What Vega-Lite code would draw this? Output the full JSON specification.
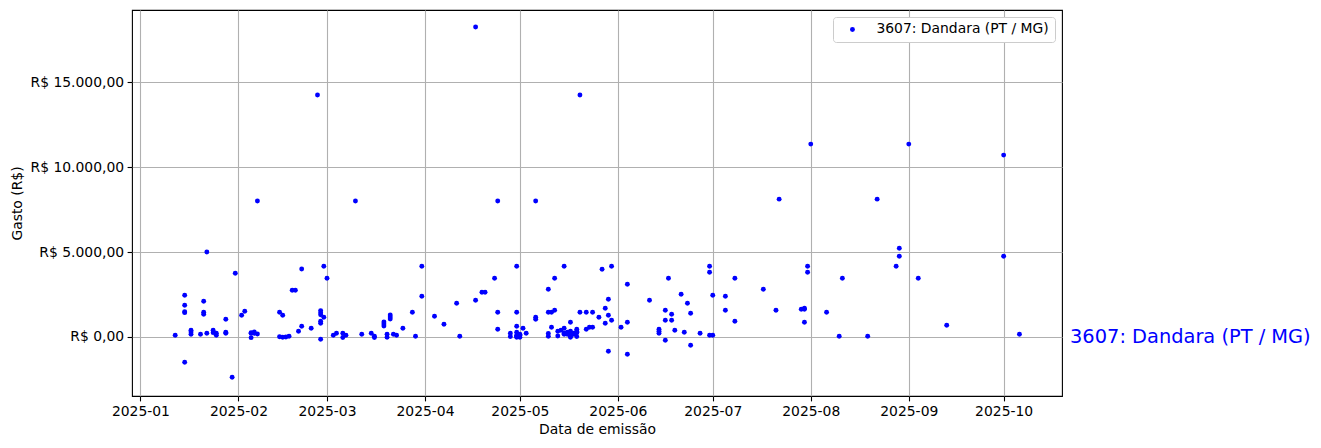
{
  "$schema": "https://vega.github.io/schema/vega-lite/v6.json",
  "width": 930,
  "height": 386,
  "autosize": {"type": "none"},
  "padding": {"left": 132, "top": 10, "right": 259, "bottom": 52},
  "background": "white",
  "config": {
    "view": {"stroke": "black", "strokeWidth": 1.1},
    "axis": {
      "domain": false,
      "tickColor": "black",
      "tickSize": 4.9,
      "tickWidth": 1.1,
      "labelColor": "black",
      "labelFont": "DejaVu Sans",
      "labelFontSize": 13.9,
      "labelPadding": 3.5,
      "titleFont": "DejaVu Sans",
      "titleFontSize": 13.9,
      "titleFontWeight": "normal",
      "titleColor": "black",
      "gridColor": "#b0b0b0",
      "gridWidth": 1.1,
      "gridOpacity": 1
    },
    "legend": {
      "orient": "top-right",
      "offset": 7,
      "labelFont": "DejaVu Sans",
      "labelFontSize": 13.9,
      "labelColor": "black",
      "labelLimit": 0,
      "symbolType": "circle",
      "symbolSize": 24,
      "symbolOffset": 7,
      "labelOffset": 17,
      "strokeColor": "#cccccc",
      "fillColor": "white",
      "padding": 5.5,
      "cornerRadius": 3
    }
  },
  "data": {
    "values": [
      {"d": "2025-01-12", "v": 100},
      {"d": "2025-01-15", "v": 2456},
      {"d": "2025-01-15", "v": 1867},
      {"d": "2025-01-15", "v": 1480},
      {"d": "2025-01-15", "v": 1430},
      {"d": "2025-01-15", "v": -1490},
      {"d": "2025-01-17", "v": 395},
      {"d": "2025-01-17", "v": 295},
      {"d": "2025-01-17", "v": 159},
      {"d": "2025-01-20", "v": 159},
      {"d": "2025-01-21", "v": 2103},
      {"d": "2025-01-21", "v": 1455},
      {"d": "2025-01-21", "v": 1337},
      {"d": "2025-01-22", "v": 5000},
      {"d": "2025-01-22", "v": 218},
      {"d": "2025-01-24", "v": 395},
      {"d": "2025-01-24", "v": 253},
      {"d": "2025-01-25", "v": 218},
      {"d": "2025-01-25", "v": 100},
      {"d": "2025-01-28", "v": 218},
      {"d": "2025-01-28", "v": 277},
      {"d": "2025-01-28", "v": 1042},
      {"d": "2025-01-30", "v": -2374},
      {"d": "2025-01-31", "v": 3752},
      {"d": "2025-02-02", "v": 1278},
      {"d": "2025-02-03", "v": 1514},
      {"d": "2025-02-05", "v": 218},
      {"d": "2025-02-05", "v": -40},
      {"d": "2025-02-05", "v": 253},
      {"d": "2025-02-06", "v": 295},
      {"d": "2025-02-06", "v": 218},
      {"d": "2025-02-07", "v": 177},
      {"d": "2025-02-07", "v": 8000},
      {"d": "2025-02-14", "v": 1455},
      {"d": "2025-02-15", "v": 1278},
      {"d": "2025-02-14", "v": 10},
      {"d": "2025-02-15", "v": -20},
      {"d": "2025-02-16", "v": 0},
      {"d": "2025-02-17", "v": 41},
      {"d": "2025-02-18", "v": 2750},
      {"d": "2025-02-19", "v": 2750},
      {"d": "2025-02-20", "v": 336},
      {"d": "2025-02-21", "v": 4000},
      {"d": "2025-02-21", "v": 630},
      {"d": "2025-02-24", "v": 512},
      {"d": "2025-02-26", "v": 14236},
      {"d": "2025-02-27", "v": 1550},
      {"d": "2025-02-27", "v": 1430},
      {"d": "2025-02-27", "v": 1310},
      {"d": "2025-02-27", "v": 925},
      {"d": "2025-02-27", "v": 807},
      {"d": "2025-02-27", "v": -135},
      {"d": "2025-02-28", "v": 1160},
      {"d": "2025-02-28", "v": 4164},
      {"d": "2025-03-01", "v": 3457},
      {"d": "2025-03-03", "v": 100},
      {"d": "2025-03-04", "v": 218},
      {"d": "2025-03-06", "v": 218},
      {"d": "2025-03-06", "v": -30},
      {"d": "2025-03-07", "v": 100},
      {"d": "2025-03-10", "v": 8000},
      {"d": "2025-03-12", "v": 159},
      {"d": "2025-03-15", "v": 218},
      {"d": "2025-03-16", "v": 41},
      {"d": "2025-03-16", "v": -30},
      {"d": "2025-03-19", "v": 884},
      {"d": "2025-03-19", "v": 766},
      {"d": "2025-03-19", "v": 648},
      {"d": "2025-03-20", "v": 159},
      {"d": "2025-03-20", "v": -18},
      {"d": "2025-03-21", "v": 1296},
      {"d": "2025-03-21", "v": 1178},
      {"d": "2025-03-21", "v": 1060},
      {"d": "2025-03-22", "v": 159},
      {"d": "2025-03-23", "v": 100},
      {"d": "2025-03-25", "v": 512},
      {"d": "2025-03-28", "v": 1455},
      {"d": "2025-03-29", "v": 41},
      {"d": "2025-03-31", "v": 4164},
      {"d": "2025-03-31", "v": 2397},
      {"d": "2025-04-04", "v": 1219},
      {"d": "2025-04-07", "v": 748},
      {"d": "2025-04-11", "v": 1985},
      {"d": "2025-04-12", "v": 41},
      {"d": "2025-04-17", "v": 18242},
      {"d": "2025-04-17", "v": 2162},
      {"d": "2025-04-19", "v": 2633},
      {"d": "2025-04-20", "v": 2633},
      {"d": "2025-04-23", "v": 3457},
      {"d": "2025-04-24", "v": 1455},
      {"d": "2025-04-24", "v": 453},
      {"d": "2025-04-24", "v": 8000},
      {"d": "2025-04-28", "v": 218},
      {"d": "2025-04-28", "v": 30},
      {"d": "2025-04-30", "v": 100},
      {"d": "2025-04-30", "v": 277},
      {"d": "2025-04-30", "v": 630},
      {"d": "2025-04-30", "v": 4164},
      {"d": "2025-04-30", "v": 1455},
      {"d": "2025-04-30", "v": 41},
      {"d": "2025-04-30", "v": -18},
      {"d": "2025-05-01", "v": 100},
      {"d": "2025-05-01", "v": 159},
      {"d": "2025-05-01", "v": -18},
      {"d": "2025-05-02", "v": 512},
      {"d": "2025-05-03", "v": 218},
      {"d": "2025-05-06", "v": 8000},
      {"d": "2025-05-06", "v": 1160},
      {"d": "2025-05-06", "v": 1042},
      {"d": "2025-05-10", "v": 2810},
      {"d": "2025-05-10", "v": 1455},
      {"d": "2025-05-11", "v": 1455},
      {"d": "2025-05-10", "v": 200},
      {"d": "2025-05-10", "v": 41},
      {"d": "2025-05-11", "v": 571},
      {"d": "2025-05-12", "v": 1573},
      {"d": "2025-05-12", "v": 3457},
      {"d": "2025-05-13", "v": 336},
      {"d": "2025-05-13", "v": 60},
      {"d": "2025-05-14", "v": 395},
      {"d": "2025-05-15", "v": 4164},
      {"d": "2025-05-15", "v": 512},
      {"d": "2025-05-15", "v": 218},
      {"d": "2025-05-15", "v": 159},
      {"d": "2025-05-16", "v": 277},
      {"d": "2025-05-16", "v": 159},
      {"d": "2025-05-17", "v": 866},
      {"d": "2025-05-17", "v": 336},
      {"d": "2025-05-17", "v": 41},
      {"d": "2025-05-17", "v": 277},
      {"d": "2025-05-17", "v": -18},
      {"d": "2025-05-18", "v": 159},
      {"d": "2025-05-18", "v": 218},
      {"d": "2025-05-19", "v": 453},
      {"d": "2025-05-19", "v": 336},
      {"d": "2025-05-19", "v": 277},
      {"d": "2025-05-19", "v": 250},
      {"d": "2025-05-19", "v": 20},
      {"d": "2025-05-20", "v": 14236},
      {"d": "2025-05-20", "v": 1455},
      {"d": "2025-05-22", "v": 1455},
      {"d": "2025-05-22", "v": 453},
      {"d": "2025-05-23", "v": 571},
      {"d": "2025-05-24", "v": 1455},
      {"d": "2025-05-24", "v": 571},
      {"d": "2025-05-26", "v": 1160},
      {"d": "2025-05-27", "v": 3987},
      {"d": "2025-05-28", "v": 1690},
      {"d": "2025-05-28", "v": 807},
      {"d": "2025-05-29", "v": 2220},
      {"d": "2025-05-29", "v": -842},
      {"d": "2025-05-29", "v": 1278},
      {"d": "2025-05-30", "v": 984},
      {"d": "2025-05-30", "v": 4164},
      {"d": "2025-06-02", "v": 571},
      {"d": "2025-06-04", "v": 3104},
      {"d": "2025-06-04", "v": 866},
      {"d": "2025-06-04", "v": -1019},
      {"d": "2025-06-11", "v": 2162},
      {"d": "2025-06-14", "v": 453},
      {"d": "2025-06-14", "v": 336},
      {"d": "2025-06-14", "v": 218},
      {"d": "2025-06-16", "v": 984},
      {"d": "2025-06-16", "v": -194},
      {"d": "2025-06-16", "v": 1573},
      {"d": "2025-06-17", "v": 3457},
      {"d": "2025-06-18", "v": 1337},
      {"d": "2025-06-18", "v": 984},
      {"d": "2025-06-19", "v": 395},
      {"d": "2025-06-21", "v": 2515},
      {"d": "2025-06-22", "v": 277},
      {"d": "2025-06-23", "v": 1985},
      {"d": "2025-06-24", "v": 1396},
      {"d": "2025-06-24", "v": -489},
      {"d": "2025-06-27", "v": 218},
      {"d": "2025-06-30", "v": 4164},
      {"d": "2025-06-30", "v": 3811},
      {"d": "2025-06-30", "v": 100},
      {"d": "2025-07-01", "v": 100},
      {"d": "2025-07-01", "v": 2456},
      {"d": "2025-07-05", "v": 2397},
      {"d": "2025-07-05", "v": 1573},
      {"d": "2025-07-08", "v": 3457},
      {"d": "2025-07-08", "v": 925},
      {"d": "2025-07-17", "v": 2810},
      {"d": "2025-07-21", "v": 1573},
      {"d": "2025-07-22", "v": 8111},
      {"d": "2025-07-29", "v": 1631},
      {"d": "2025-07-30", "v": 1631},
      {"d": "2025-07-30", "v": 1690},
      {"d": "2025-07-30", "v": 866},
      {"d": "2025-07-31", "v": 4164},
      {"d": "2025-07-31", "v": 3811},
      {"d": "2025-08-01", "v": 11350},
      {"d": "2025-08-06", "v": 1455},
      {"d": "2025-08-10", "v": 41},
      {"d": "2025-08-11", "v": 3457},
      {"d": "2025-08-19", "v": 41},
      {"d": "2025-08-22", "v": 8111},
      {"d": "2025-08-28", "v": 4164},
      {"d": "2025-08-29", "v": 4753},
      {"d": "2025-08-29", "v": 5225},
      {"d": "2025-09-01", "v": 11350},
      {"d": "2025-09-04", "v": 3457},
      {"d": "2025-09-13", "v": 689},
      {"d": "2025-10-01", "v": 10702},
      {"d": "2025-10-01", "v": 4753},
      {"d": "2025-10-06", "v": 159}
    ]
  },
  "layer": [
    {
      "mark": {"type": "point", "filled": true, "opacity": 1, "size": 24, "shape": "circle"},
      "encoding": {
        "x": {
          "field": "d",
          "type": "temporal",
          "title": "Data de emissão",
          "scale": {
            "type": "utc",
            "domain": [
              {"year": 2024, "month": 12, "date": 29, "hours": 8, "utc": true},
              {"year": 2025, "month": 10, "date": 19, "hours": 11, "utc": true}
            ]
          },
          "axis": {
            "labelExpr": "utcFormat(datum.value, '%Y-%m')",
            "titlePadding": 4,
            "values": [
              {"year": 2025, "month": 1, "date": 1, "utc": true},
              {"year": 2025, "month": 2, "date": 1, "utc": true},
              {"year": 2025, "month": 3, "date": 1, "utc": true},
              {"year": 2025, "month": 4, "date": 1, "utc": true},
              {"year": 2025, "month": 5, "date": 1, "utc": true},
              {"year": 2025, "month": 6, "date": 1, "utc": true},
              {"year": 2025, "month": 7, "date": 1, "utc": true},
              {"year": 2025, "month": 8, "date": 1, "utc": true},
              {"year": 2025, "month": 9, "date": 1, "utc": true},
              {"year": 2025, "month": 10, "date": 1, "utc": true}
            ]
          }
        },
        "y": {
          "field": "v",
          "type": "quantitative",
          "title": "Gasto (R$)",
          "scale": {"domain": [-3475, 19243], "nice": false, "zero": false},
          "axis": {
            "values": [0, 5000, 10000, 15000],
            "titlePadding": 6,
            "labelExpr": "'R$ ' + replace(replace(replace(format(datum.value, ',.2f'), ',', '_'), '.', ','), '_', '.')"
          }
        },
        "color": {
          "datum": "3607: Dandara (PT / MG)",
          "scale": {"range": ["#0000ff"]},
          "legend": {"title": null}
        }
      }
    },
    {
      "data": {"values": [{"d": "2025-10-22", "v": 0, "label": "3607: Dandara (PT / MG)"}]},
      "mark": {"type": "text", "align": "left", "baseline": "middle", "font": "DejaVu Sans", "fontSize": 19.4, "color": "#0000ff", "clip": false},
      "encoding": {
        "x": {"field": "d", "type": "temporal"},
        "y": {"field": "v", "type": "quantitative"},
        "text": {"field": "label"}
      }
    }
  ]
}
